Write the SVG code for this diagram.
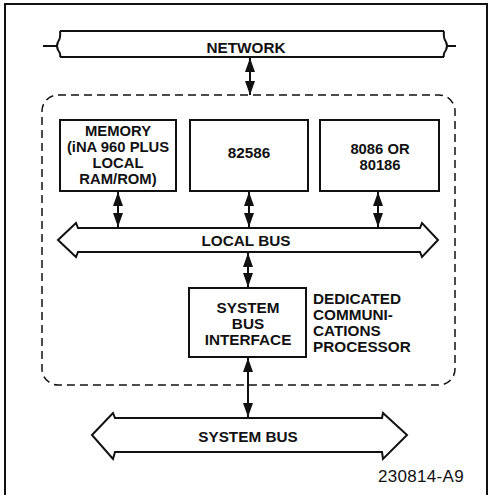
<svg xmlns="http://www.w3.org/2000/svg" width="490" height="495" viewBox="0 0 490 495">
<defs>
<marker id="ah" viewBox="0 0 14 10" refX="14" refY="5" markerWidth="14" markerHeight="10" markerUnits="userSpaceOnUse" orient="auto-start-reverse">
<path d="M0,0 L14,5 L0,10 Z" fill="#111"/>
</marker>
</defs>
<style>
.ln{fill:none;stroke:#111;stroke-width:2}
.box{fill:#fff;stroke:#111;stroke-width:2}
.t{font-family:"Liberation Sans",Arial,sans-serif;font-weight:bold;font-size:15.3px;fill:#111}
.s{font-size:14.8px}
.c{text-anchor:middle}
.conn{stroke:#111;stroke-width:2;fill:none;marker-start:url(#ah);marker-end:url(#ah)}
</style>
<rect width="490" height="495" fill="#fff"/>
<path class="ln" d="M5,495 L5,4 L487,4 L487,495" stroke-width="1.5"/>

<g id="network">
<path class="ln" d="M43,46 L57,46 M60,31 L444,31 M60,57 L444,57 M60,31 Q61,38 58,42 Q56,46 58,50 Q61,54 60,57 M444,31 Q443,38 446,42 Q448,46 446,50 Q443,54 444,57 M448,46 L456,46"/>
<text class="t c" x="246" y="53">NETWORK</text>
</g>

<g id="dcp">
<rect x="42" y="95" width="413" height="290" rx="16" ry="16" fill="none" stroke="#111" stroke-width="1.5" stroke-dasharray="8,5"/>
<text class="t" x="313" y="304">DEDICATED</text>
<text class="t" x="313" y="320">COMMUNI-</text>
<text class="t" x="313" y="336">CATIONS</text>
<text class="t" x="313" y="352">PROCESSOR</text>
</g>

<g id="memory">
<rect class="box" x="60" y="120" width="116" height="71"/>
<text class="t s c" x="118" y="136">MEMORY</text>
<text class="t s c" x="118" y="152">(iNA 960 PLUS</text>
<text class="t s c" x="118" y="168">LOCAL</text>
<text class="t s c" x="118" y="184">RAM/ROM)</text>
</g>

<g id="n82586">
<rect class="box" x="190" y="120" width="118" height="71"/>
<text class="t c" x="249" y="158">82586</text>
</g>

<g id="cpu">
<rect class="box" x="320" y="120" width="119" height="71"/>
<text class="t s c" x="380" y="154">8086 OR</text>
<text class="t s c" x="380" y="170">80186</text>
</g>

<g id="localbus">
<path class="box" d="M58,240 L76,223 L78,228 L420,228 L422,223 L438,240 L422,257 L420,252 L78,252 L76,257 Z"/>
<text class="t c" x="246" y="246">LOCAL BUS</text>
</g>

<g id="sbi">
<rect class="box" x="189" y="288" width="117" height="69"/>
<text class="t c" x="248" y="313">SYSTEM</text>
<text class="t c" x="248" y="329">BUS</text>
<text class="t c" x="248" y="345">INTERFACE</text>
</g>

<g id="systembus">
<path class="box" d="M92,435 L113,413 L115,418 L382,418 L383,413 L407,435 L383,459 L382,452 L115,452 L113,459 Z"/>
<text class="t c" x="248" y="442">SYSTEM BUS</text>
</g>

<g id="connectors">
<line class="conn" x1="250" y1="58" x2="250" y2="95"/>
<line class="conn" x1="118" y1="192" x2="118" y2="227"/>
<line class="conn" x1="249" y1="192" x2="249" y2="227"/>
<line class="conn" x1="378" y1="192" x2="378" y2="227"/>
<line class="conn" x1="248" y1="253" x2="248" y2="287"/>
<line class="conn" x1="248" y1="358" x2="248" y2="417"/>
</g>

<text x="378" y="482" style="font-family:'Liberation Sans',Arial,sans-serif;font-size:17px;letter-spacing:0.3px;fill:#111">230814-A9</text>
</svg>
